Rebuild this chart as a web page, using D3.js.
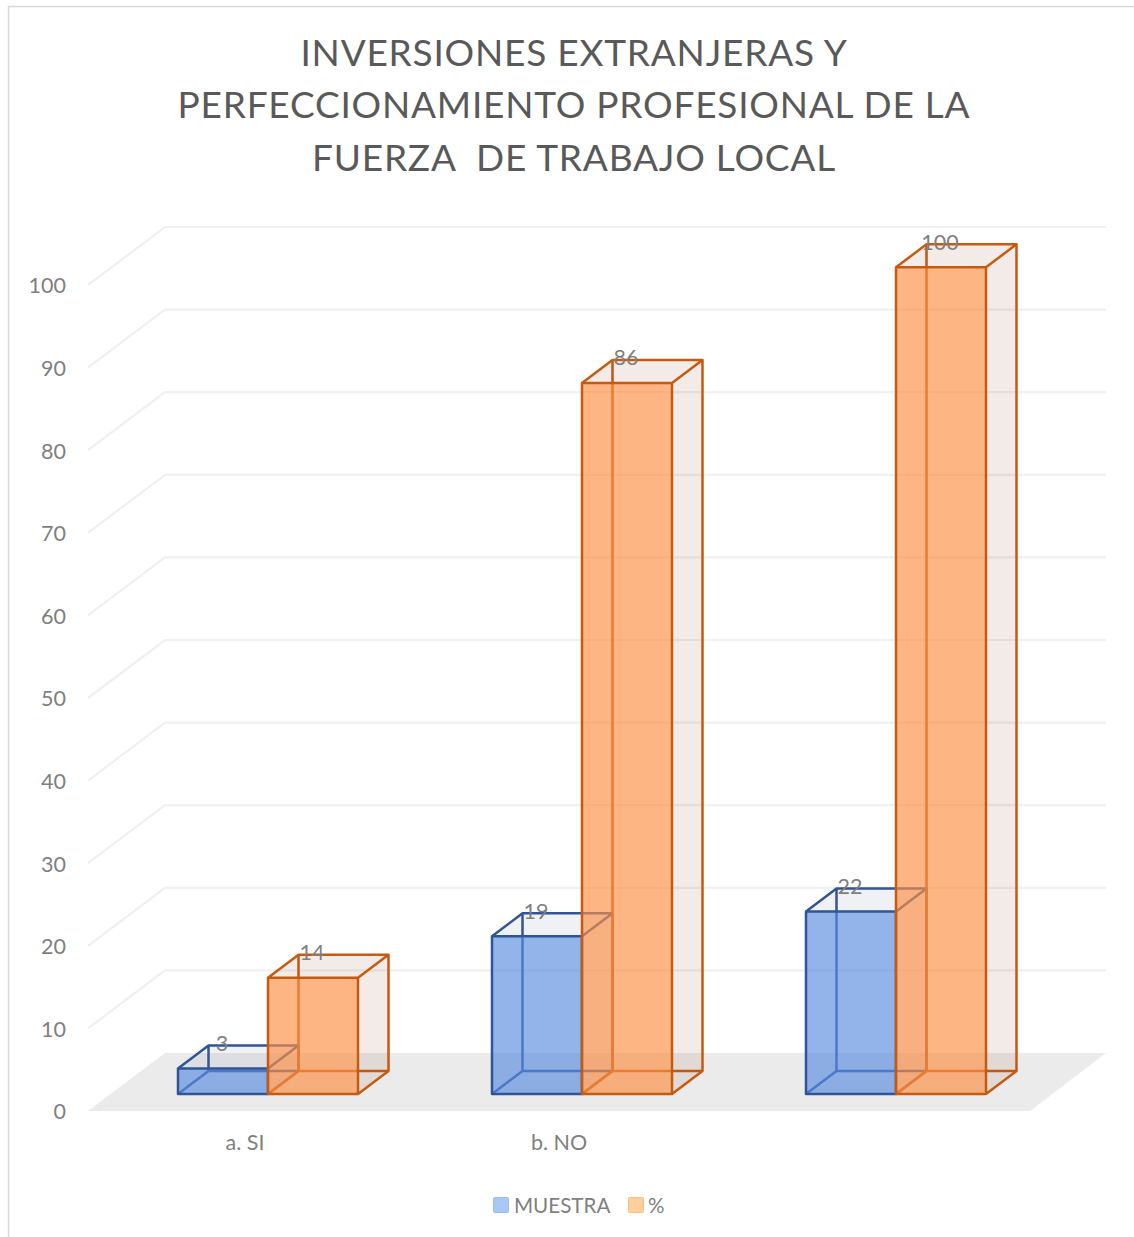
<!DOCTYPE html>
<html><head><meta charset="utf-8">
<script src="https://cdn.jsdelivr.net/npm/d3@7"></script>
<style>html,body{margin:0;padding:0;background:#fff}svg{display:block}text{font-family:Lato,"Open Sans",sans-serif}</style>
</head><body><svg id="c" width="1134" height="1237"></svg>
<script>
const titleLines = ["INVERSIONES EXTRANJERAS Y","PERFECCIONAMIENTO PROFESIONAL DE LA","FUERZA  DE TRABAJO LOCAL"];
const categories = ["a. SI","b. NO",""];
const seriesNames = ["MUESTRA","%"];
const muestra = [3,19,22];
const porcentaje = [14,86,100];
const yTicks = [0,10,20,30,40,50,60,70,80,90,100];

const svg = d3.select("#c");
const floorDepth = {x:77,y:-58}, barDepth = {x:30.5,y:-23};
const yFront = d3.scaleLinear().domain([0,100]).range([1111,285]);
const x0 = d3.scaleBand().domain(categories).range([88,1030]);
const barW = 90, barBase = 1094;
const yLen = v => yFront(0)-yFront(v)+0.7;

// frame
svg.append("path").attr("d","M8.5,1237V6.5H1134").attr("fill","none").attr("stroke","#d9d9d9").attr("stroke-width",1.5);

// title
svg.append("g").selectAll("text").data(titleLines).join("text")
  .attr("x",574).attr("y",(d,i)=>65.5+i*52.5).attr("text-anchor","middle")
  .attr("font-size",37).attr("letter-spacing",0.78).attr("fill","#595959").attr("xml:space","preserve").style("white-space","pre").text(d=>d);

// floor
const fl=x0.range()[0], fr=x0.range()[1], fb=yFront(0);
svg.append("path").attr("d",`M${fl},${fb}L${fl+floorDepth.x},${fb+floorDepth.y}H${fr+floorDepth.x-1}L${fr},${fb}Z`).attr("fill","#ebebeb");

// gridlines (wall + back)
svg.append("g").selectAll("path").data(yTicks.slice(1)).join("path")
  .attr("d",d=>`M${fl},${yFront(d)}L${fl+floorDepth.x},${yFront(d)+floorDepth.y}H${fr+floorDepth.x-1}`)
  .attr("fill","none").attr("stroke","#f0f0f0").attr("stroke-width",2.2);

// y axis
const ax = svg.append("g").attr("transform","translate(74,1)").call(d3.axisLeft(yFront).tickValues(yTicks).tickSize(0).tickPadding(8));
ax.select(".domain").remove();
ax.selectAll("text").attr("font-size",21.5).attr("fill","#7f7f7f").style("font-family","Lato,'Open Sans',sans-serif");

// x axis labels
const axx = svg.append("g").attr("transform","translate(0,1135)").call(d3.axisBottom(x0).tickSize(0).tickPadding(0));
axx.select(".domain").remove();
axx.selectAll("text").attr("font-size",21.5).attr("fill","#7f7f7f").attr("dy","0.71em").style("font-family","Lato,'Open Sans',sans-serif");

// bars
const styles=[
 {edge:"#2f5597",front:"#5b8ce0",side:"rgba(90,100,130,0.09)"},
 {edge:"#c55a11",front:"#fd8f45",side:"rgba(150,70,40,0.11)"}
];
function bar(g,x,h,s){
  const dx=barDepth.x,dy=barDepth.y,y=barBase-h,w=barW;
  // back edges
  g.append("path").attr("d",`M${x+dx},${barBase+dy}V${y+dy}M${x},${barBase}L${x+dx},${barBase+dy}H${x+w+dx}`)
    .attr("fill","none").attr("stroke",s.edge).attr("stroke-width",2.5);
  // top + right faces
  g.append("path").attr("d",`M${x},${y}L${x+dx},${y+dy}H${x+w+dx}L${x+w},${y}Z`).attr("fill",s.side);
  g.append("path").attr("d",`M${x+w},${y}L${x+w+dx},${y+dy}V${barBase+dy}L${x+w},${barBase}Z`).attr("fill",s.side);
  // front
  g.append("rect").attr("x",x).attr("y",y).attr("width",w).attr("height",h).attr("fill",s.front).attr("fill-opacity",0.66);
  // front-visible edges
  g.append("path").attr("d",`M${x},${barBase}V${y}H${x+w}V${barBase}ZM${x},${y}L${x+dx},${y+dy}H${x+w+dx}L${x+w},${y}M${x+w+dx},${y+dy}V${barBase+dy}L${x+w},${barBase}`)
    .attr("fill","none").attr("stroke",s.edge).attr("stroke-width",2.5).attr("stroke-linejoin","round");
}
const bars = svg.append("g");
categories.forEach((c,i)=>{
  const x=x0(c)+barW;
  bar(bars.append("g"),x,yLen(muestra[i]),styles[0]);
  bar(bars.append("g"),x+barW,yLen(porcentaje[i]),styles[1]);
});

// data labels
const lab = svg.append("g");
categories.forEach((c,i)=>{
  [muestra[i],porcentaje[i]].forEach((v,j)=>{
    lab.append("text").attr("x",x0(c)+barW*(j+1)+44).attr("y",barBase-yLen(v)+barDepth.y+5.5)
      .attr("text-anchor","middle").attr("font-size",21.5).attr("fill","#7f7f7f").text(v);
  });
});

// legend
const lg = svg.append("g");
const legX=[493,628], legT=[514,648], legF=["#a9c8f8","#ffd09c"], legS=["#9dbdf0","#fbbf85"];
seriesNames.forEach((n,i)=>{
  lg.append("rect").attr("x",legX[i]+.5).attr("y",1197.5).attr("width",15).attr("height",15).attr("rx",1).attr("fill",legF[i]).attr("stroke",legS[i]);
  lg.append("text").attr("x",legT[i]).attr("y",1213).attr("font-size",20.6).attr("fill","#7f7f7f").text(n);
});
</script></body></html>
